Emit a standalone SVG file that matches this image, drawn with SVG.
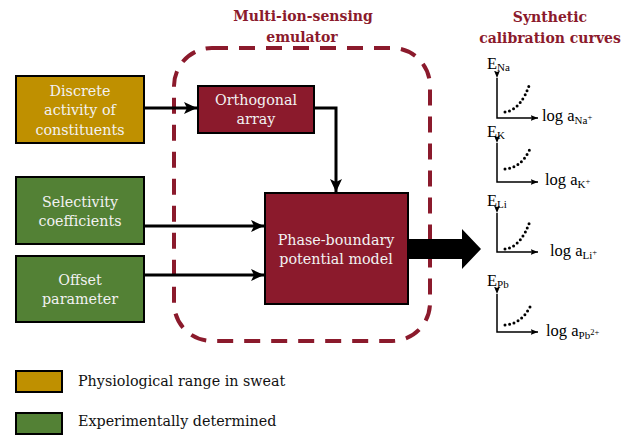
<svg xmlns="http://www.w3.org/2000/svg" width="637" height="436" viewBox="0 0 637 436" font-family="'DejaVu Serif', 'Liberation Serif', serif">
<style>
.box{stroke:#000;stroke-width:2}
.gold{fill:#BF9000}
.green{fill:#538135}
.red{fill:#8B1A2C}
.bt{font-size:14.3px;fill:#F2F2F2;text-anchor:middle}
.title{font-size:14px;font-weight:bold;fill:#8B1A2C;text-anchor:middle}
.leg{font-size:14.3px;fill:#111}
.pl{font-size:16.5px;fill:#000}
.sub{font-size:11px}
.sup{font-size:8.5px}
.conn{fill:none;stroke:#000;stroke-width:3}
.ax{fill:none;stroke:#000;stroke-width:1.5}
.dots{fill:none;stroke:#000;stroke-width:3;stroke-linecap:round;stroke-dasharray:0 4.6}
</style>
<defs>
<marker id="ah" markerUnits="userSpaceOnUse" markerWidth="14" markerHeight="14" viewBox="0 0 14 14" refX="13" refY="7" orient="auto">
<path d="M0,1 L13,7 L0,13 L3,7 Z" fill="#000"/>
</marker>
<marker id="sa" markerUnits="userSpaceOnUse" markerWidth="8" markerHeight="8" viewBox="0 0 8 8" refX="7.5" refY="4" orient="auto">
<path d="M0,1 L7.5,4 L0,7 L1.5,4 Z" fill="#000"/>
</marker>
</defs>

<g id="emulator-frame">
<rect x="174" y="48" width="256" height="293" rx="38" fill="none" stroke="#8B1A2C" stroke-width="4" stroke-dasharray="16 11"/>
<text class="title" x="303" y="21">Multi-ion-sensing</text>
<text class="title" x="302" y="42">emulator</text>
</g>

<g id="curves-title">
<text class="title" x="550" y="22">Synthetic</text>
<text class="title" x="550" y="43">calibration curves</text>
</g>

<g id="connectors">
<line class="conn" x1="144" y1="108" x2="197" y2="108" marker-end="url(#ah)"/>
<path class="conn" d="M314,108 H336 V192" marker-end="url(#ah)"/>
<line class="conn" x1="144" y1="226" x2="264" y2="226" marker-end="url(#ah)"/>
<line class="conn" x1="144" y1="275" x2="264" y2="275" marker-end="url(#ah)"/>
<polygon points="408,239 462,239 462,229 481,249 462,269 462,259 408,259" fill="#000"/>
</g>

<g id="discrete">
<rect class="box gold" x="16" y="76" width="128" height="67"/>
<text class="bt" x="80" y="96">Discrete</text>
<text class="bt" x="80" y="115">activity of</text>
<text class="bt" x="80" y="135">constituents</text>
</g>

<g id="orthogonal">
<rect class="box red" x="198" y="86" width="116" height="47"/>
<text class="bt" x="256" y="105">Orthogonal</text>
<text class="bt" x="256" y="124">array</text>
</g>

<g id="selectivity">
<rect class="box green" x="16" y="177" width="128" height="67"/>
<text class="bt" x="80" y="207">Selectivity</text>
<text class="bt" x="80" y="226">coefficients</text>
</g>

<g id="offset">
<rect class="box green" x="16" y="256" width="128" height="66"/>
<text class="bt" x="80" y="285">Offset</text>
<text class="bt" x="80" y="304">parameter</text>
</g>

<g id="phase-boundary">
<rect class="box red" x="265" y="193" width="143" height="111"/>
<text class="bt" x="336" y="245">Phase-boundary</text>
<text class="bt" x="336" y="264">potential model</text>
</g>

<g id="plot-na" font-family="'Liberation Serif', serif">
<path class="ax" d="M497,78 V118 H538" marker-start="url(#sa)" marker-end="url(#sa)"/>
<path class="dots" d="M505,112 Q521,110 530,83"/>
<text class="pl" x="487" y="69">E<tspan class="sub" dy="2">Na</tspan></text>
<text class="pl" x="542" y="121">log a<tspan class="sub" dy="3">Na</tspan><tspan class="sup" dy="-4">+</tspan></text>
</g>

<g id="plot-k" font-family="'Liberation Serif', serif">
<path class="ax" d="M497,143 V182 H538" marker-start="url(#sa)" marker-end="url(#sa)"/>
<path class="dots" d="M505,169 Q521,168 530,149"/>
<text class="pl" x="487" y="137">E<tspan class="sub" dy="2">K</tspan></text>
<text class="pl" x="545" y="185">log a<tspan class="sub" dy="3">K</tspan><tspan class="sup" dy="-4">+</tspan></text>
</g>

<g id="plot-li" font-family="'Liberation Serif', serif">
<path class="ax" d="M497,213 V252 H538" marker-start="url(#sa)" marker-end="url(#sa)"/>
<path class="dots" d="M505,249 Q521,247 530,221"/>
<text class="pl" x="487" y="206">E<tspan class="sub" dy="2">Li</tspan></text>
<text class="pl" x="550" y="256">log a<tspan class="sub" dy="3">Li</tspan><tspan class="sup" dy="-4">+</tspan></text>
</g>

<g id="plot-pb" font-family="'Liberation Serif', serif">
<path class="ax" d="M497,294 V332 H538" marker-start="url(#sa)" marker-end="url(#sa)"/>
<path class="dots" d="M505,325 Q521,324 530,307"/>
<text class="pl" x="487" y="286">E<tspan class="sub" dy="2">Pb</tspan></text>
<text class="pl" x="546" y="336">log a<tspan class="sub" dy="3">Pb</tspan><tspan class="sup" dy="-4">2+</tspan></text>
</g>

<g id="legend">
<rect class="box gold" x="16" y="371" width="46" height="21"/>
<text class="leg" x="78" y="386">Physiological range in sweat</text>
<rect class="box green" x="16" y="413" width="46" height="21"/>
<text class="leg" x="78" y="426">Experimentally determined</text>
</g>
</svg>
